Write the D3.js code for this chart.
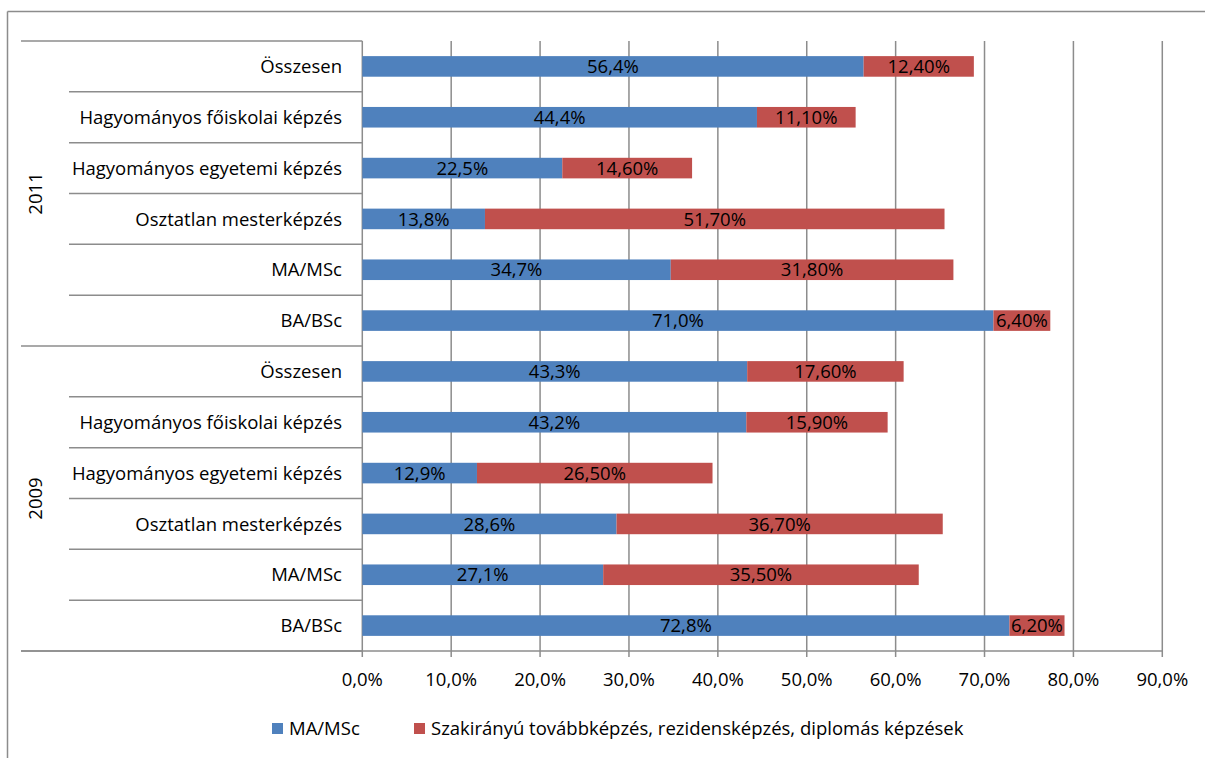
<!DOCTYPE html>
<html><head><meta charset="utf-8">
<script src="https://cdn.jsdelivr.net/npm/d3@7"></script>
<style>body{margin:0;background:#fff}text{font-family:"Open Sans",sans-serif;fill:#000}</style>
</head><body><svg id="c" width="1205" height="758"></svg>
<script>
const years = ["2011", "2009"];
const categories = ["Összesen", "Hagyományos főiskolai képzés", "Hagyományos egyetemi képzés", "Osztatlan mesterképzés", "MA/MSc", "BA/BSc"];
const maValues2011 = [56.4, 44.4, 22.5, 13.8, 34.7, 71.0];
const szakValues2011 = [12.4, 11.1, 14.6, 51.7, 31.8, 6.4];
const maValues2009 = [43.3, 43.2, 12.9, 28.6, 27.1, 72.8];
const szakValues2009 = [17.6, 15.9, 26.5, 36.7, 35.5, 6.2];
const seriesNames = ["MA/MSc", "Szakirányú továbbképzés, rezidensképzés, diplomás képzések"];
const xTicks = [0, 10, 20, 30, 40, 50, 60, 70, 80, 90];

const rows = [];
years.forEach(y => categories.forEach((c, i) => {
  rows.push({key: y + "|" + i, year: y, cat: c,
    ma: y === "2011" ? maValues2011[i] : maValues2009[i],
    sz: y === "2011" ? szakValues2011[i] : szakValues2009[i]});
}));

const FS = "18.5px";
const svg = d3.select("#c");
const colors = ["#4F81BD", "#C0504D"];
const grid = "#8c8c8c";
const L = 362.3, R = 1162.3, T = 41, B = 651;
const x = d3.scaleLinear().domain([0, 90]).range([L, R]);
const y = d3.scaleBand().domain(rows.map(r => r.key)).range([T, B]).paddingInner(0.595).paddingOuter(0.2975);

// outer frame
svg.append("line").attr("x1", 7.5).attr("x2", 1205).attr("y1", 11.5).attr("y2", 11.5).attr("stroke", "#8c8c8c").attr("stroke-width", 1.5);
svg.append("line").attr("x1", 7.5).attr("x2", 7.5).attr("y1", 11.5).attr("y2", 758).attr("stroke", "#8c8c8c").attr("stroke-width", 1.5);

// gridlines
svg.append("g").selectAll("line").data(xTicks).join("line")
  .attr("x1", d => x(d)).attr("x2", d => x(d)).attr("y1", T).attr("y2", B + 6)
  .attr("stroke", grid).attr("stroke-width", 1.5);

// x axis line
svg.append("line").attr("x1", 21).attr("x2", R).attr("y1", B).attr("y2", B).attr("stroke", grid).attr("stroke-width", 1.5);

// category separators
const bandStep = (B - T) / rows.length;
for (let k = 0; k <= rows.length; k++) {
  const yy = T + k * bandStep;
  const outer = (k % categories.length === 0);
  svg.append("line").attr("x1", outer ? 21 : 69).attr("x2", L).attr("y1", yy).attr("y2", yy)
    .attr("stroke", grid).attr("stroke-width", 1.5);
}

// bars
const g = svg.append("g");
g.selectAll("rect.ma").data(rows).join("rect").attr("class", "ma")
  .attr("x", x(0)).attr("y", d => y(d.key)).attr("width", d => x(d.ma) - x(0)).attr("height", y.bandwidth())
  .attr("fill", colors[0]);
g.selectAll("rect.sz").data(rows).join("rect").attr("class", "sz")
  .attr("x", d => x(d.ma)).attr("y", d => y(d.key)).attr("width", d => x(d.ma + d.sz) - x(d.ma)).attr("height", y.bandwidth())
  .attr("fill", colors[1]);

const fmt1 = v => v.toFixed(1).replace(".", ",") + "%";
const fmt2 = v => v.toFixed(2).replace(".", ",") + "%";
g.selectAll("text.ma").data(rows).join("text").attr("class", "ma")
  .attr("x", d => (x(0) + x(d.ma)) / 2).attr("y", d => y(d.key) + y.bandwidth() / 2)
  .attr("dy", "0.36em").attr("text-anchor", "middle").style("font-size", FS).text(d => fmt1(d.ma));
g.selectAll("text.sz").data(rows).join("text").attr("class", "sz")
  .attr("x", d => (x(d.ma) + x(d.ma + d.sz)) / 2).attr("y", d => y(d.key) + y.bandwidth() / 2)
  .attr("dy", "0.36em").attr("text-anchor", "middle").style("font-size", FS).text(d => fmt2(d.sz));

// category labels
svg.append("g").selectAll("text").data(rows).join("text")
  .attr("x", 342).attr("y", d => y(d.key) + y.bandwidth() / 2).attr("dy", "0.36em")
  .attr("text-anchor", "end").style("font-size", FS).text(d => d.cat);

// year labels
years.forEach((yr, i) => {
  const cy = T + (i + 0.5) * categories.length * bandStep;
  svg.append("text").attr("transform", `translate(42,${cy}) rotate(-90)`)
    .attr("text-anchor", "middle").style("font-size", FS).text(yr);
});

// tick labels
svg.append("g").selectAll("text").data(xTicks).join("text")
  .attr("x", d => x(d)).attr("y", 679).attr("dy", "0.36em").attr("text-anchor", "middle")
  .style("font-size", FS).text(d => d.toFixed(1).replace(".", ",") + "%");

// legend
const leg = [{x: 272, name: seriesNames[0], c: colors[0]}, {x: 414, name: seriesNames[1], c: colors[1]}];
leg.forEach(l => {
  svg.append("rect").attr("x", l.x).attr("y", 723).attr("width", 11).attr("height", 11).attr("fill", l.c);
  svg.append("text").attr("x", l.x + 17).attr("y", 728.5).attr("dy", "0.36em").style("font-size", FS).text(l.name);
});
</script></body></html>
